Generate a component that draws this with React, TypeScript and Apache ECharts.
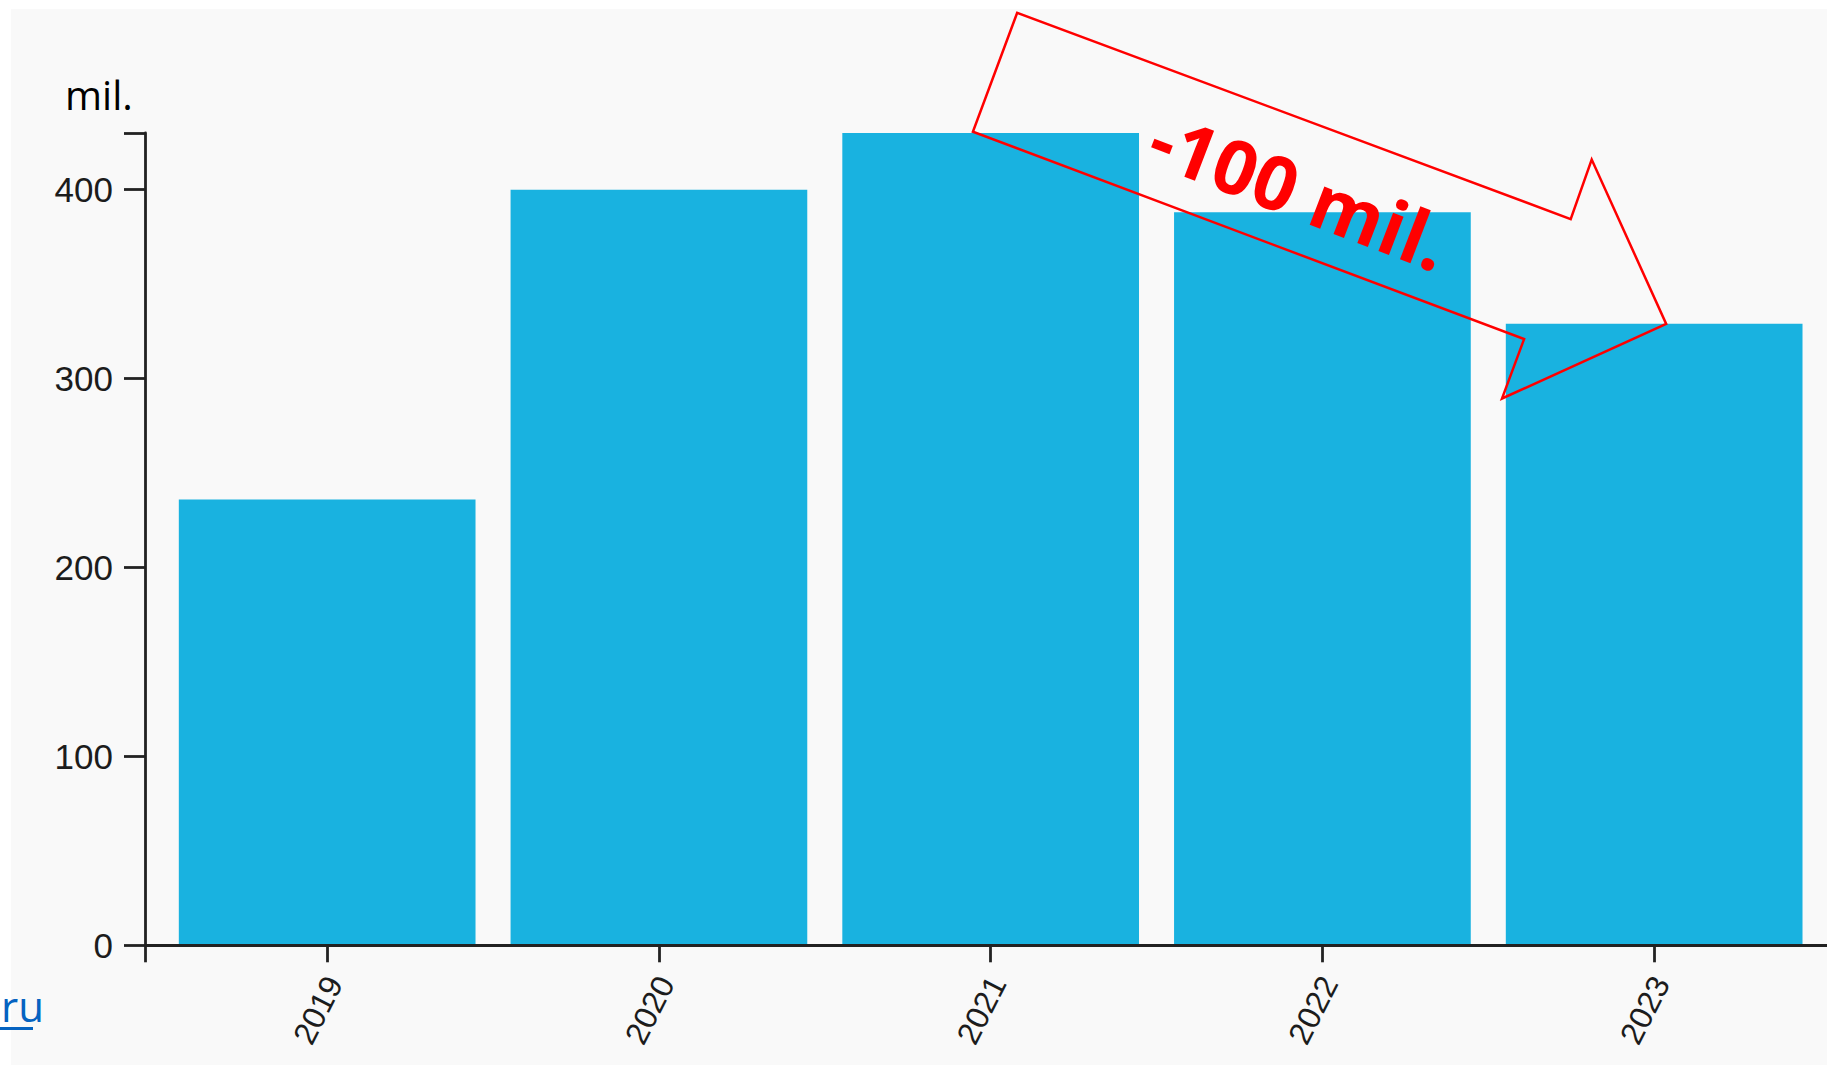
import React, { useEffect, useRef } from "react";
import * as echarts from "echarts";

const categories = ["2019", "2020", "2021", "2022", "2023"];
const values = [236, 400, 430, 388, 329];
const yTickValues = [0, 100, 200, 300, 400];
const yMax = 430;
const unitLabel = "mil.";
const annotationText = "-100 mil.";
const linkText = "ru";

const axisColor = "#222";
const labelColor = "#1c1c1c";
const barColor = "#19b2e0";

export default function App() {
  const ref = useRef<HTMLDivElement>(null);

  useEffect(() => {
    if (!ref.current) return;
    const chart = echarts.init(ref.current, undefined, { renderer: "svg" });

    const xMin = -0.547;
    const xMax = 4.521;
    const labelShift = 0.021;

    const option: any = {
      animation: false,
      backgroundColor: "#ffffff",
      grid: { left: 145.7, right: 0, top: 133, bottom: 119.7, containLabel: false },
      xAxis: {
        type: "value",
        min: xMin,
        max: xMax,
        z: 3,
        splitLine: { show: false },
        axisLine: { show: true, onZero: false, lineStyle: { color: axisColor, width: 2.8 } },
        axisTick: {
          show: true,
          customValues: [xMin, ...categories.map((_, i) => i)],
          length: 17,
          lineStyle: { color: axisColor, width: 2.8 },
        },
        axisLabel: {
          show: true,
          customValues: categories.map((_, i) => i + labelShift),
          formatter: (v: number) => categories[Math.round(v)] ?? "",
          rotate: 63,
          margin: 33,
          fontSize: 32,
          fontFamily: "'Liberation Sans', Arial, sans-serif",
          color: labelColor,
        },
      },
      yAxis: {
        type: "value",
        min: 0,
        max: yMax,
        z: 3,
        splitLine: { show: false },
        axisLine: { show: true, onZero: false, lineStyle: { color: axisColor, width: 2.8 } },
        axisTick: {
          show: true,
          customValues: [...yTickValues, yMax],
          length: 21.7,
          lineStyle: { color: axisColor, width: 2.8 },
        },
        axisLabel: {
          show: true,
          customValues: yTickValues,
          margin: 32.7,
          fontSize: 35,
          fontFamily: "'Liberation Sans', Arial, sans-serif",
          color: labelColor,
        },
      },
      series: [
        {
          type: "bar",
          data: values.map((v, i) => [i, v]),
          barWidth: 296.7,
          itemStyle: { color: barColor },
          z: 2,
        },
      ],
      graphic: [
        {
          type: "rect",
          silent: true,
          z: -10,
          shape: { x: 11, y: 9, width: 1816, height: 1056 },
          style: { fill: "#f9f9f9" },
        },
        {
          type: "text",
          x: 65,
          y: 94.5,
          z: 10,
          style: {
            text: unitLabel,
            fontSize: 40,
            fontFamily: "'Open Sans', sans-serif",
            fill: "#000",
            align: "left",
            verticalAlign: "middle",
          },
        },
        {
          type: "text",
          x: 1,
          y: 1005,
          z: 10,
          style: {
            text: linkText,
            fontSize: 42,
            fontFamily: "'Open Sans', sans-serif",
            fill: "#0563c1",
            align: "left",
            verticalAlign: "middle",
          },
        },
        {
          type: "line",
          z: 10,
          shape: { x1: 0, y1: 1028.5, x2: 33, y2: 1028.5 },
          style: { stroke: "#0563c1", lineWidth: 3 },
        },
        {
          type: "polygon",
          z: 100,
          shape: {
            points: [
              [1017.2, 12.8],
              [972.9, 131.7],
              [1524.1, 339.1],
              [1502, 398.5],
              [1666.2, 323.9],
              [1591.7, 159.6],
              [1570.7, 219.1],
            ],
          },
          style: { fill: "none", stroke: "#ff0000", lineWidth: 2.5 },
        },
        {
          type: "text",
          x: 1300,
          y: 190,
          rotation: (-21 * Math.PI) / 180,
          z: 101,
          style: {
            text: annotationText,
            fontSize: 75,
            fontWeight: "bold",
            fontFamily: "'Open Sans', sans-serif",
            fill: "#ff0000",
            align: "center",
            verticalAlign: "middle",
          },
        },
      ],
    };

    chart.setOption(option);
    return () => chart.dispose();
  }, []);

  return (
    <div
      ref={ref}
      style={{ position: "fixed", left: 0, top: 0, width: 1827, height: 1065, background: "#fff" }}
    />
  );
}
